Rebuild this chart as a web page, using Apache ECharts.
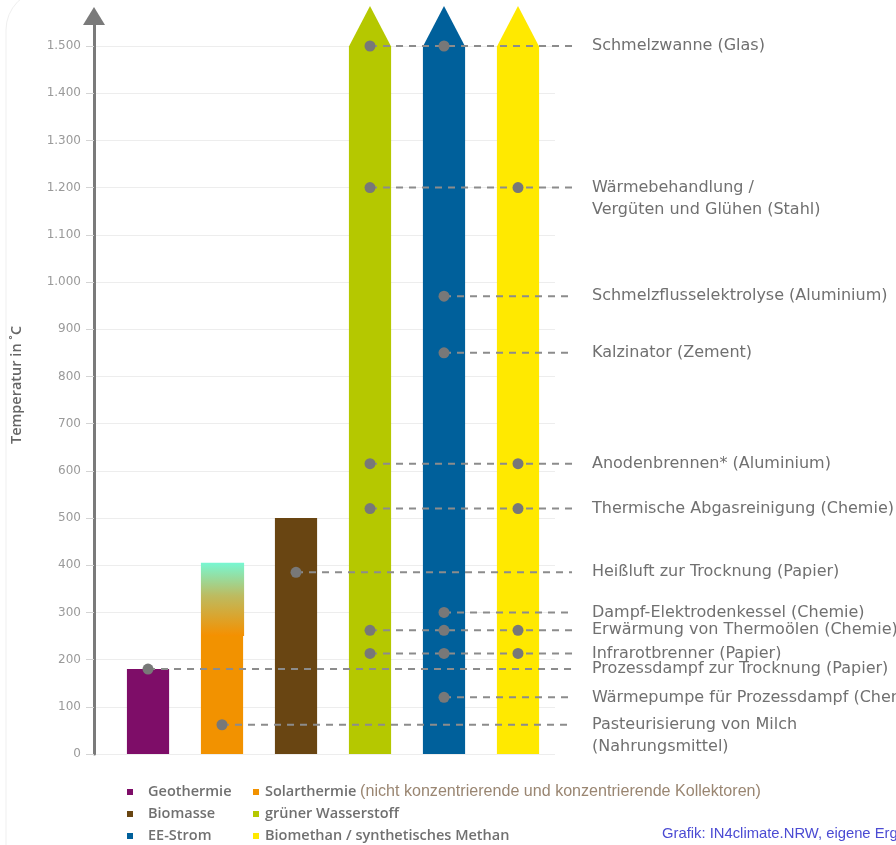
<!DOCTYPE html>
<html>
<head>
<meta charset="utf-8">
<script src="https://cdn.jsdelivr.net/npm/echarts@6/dist/echarts.min.js"></script>
<style>
  html, body { margin: 0; background: #fff; }
  #chart { width: 896px; height: 845px; }
</style>
</head>
<body>
<div id="chart"></div>
<script>
// energy sources (one column each), max temperature in °C
const sources = ['Geothermie', 'Solarthermie', 'Biomasse', 'grüner Wasserstoff', 'EE-Strom', 'Biomethan / synthetisches Methan']
const sourceColors = ['#7e0d68', '#f29200', '#694512', '#b5c800', '#00609b', '#ffe900']
const sourceMax = [180, 405, 500, 1500, 1500, 1500]
const sourceSolidTop = [0, 250, 0, 0, 0, 0] // solar: solid up to 250, gradient above
const openEnded = [false, false, false, true, true, true]
const solarNote = '(nicht konzentrierende und konzentrierende Kollektoren)'

// industrial processes: temperature and which sources (1-based column) can supply them
const processes = [
  'Schmelzwanne (Glas)',
  'Wärmebehandlung /\nVergüten und Glühen (Stahl)',
  'Schmelzflusselektrolyse (Aluminium)',
  'Kalzinator (Zement)',
  'Anodenbrennen* (Aluminium)',
  'Thermische Abgasreinigung (Chemie)',
  'Heißluft zur Trocknung (Papier)',
  'Dampf-Elektrodenkessel (Chemie)',
  'Erwärmung von Thermoölen (Chemie)',
  'Infrarotbrenner (Papier)',
  'Prozessdampf zur Trocknung (Papier)',
  'Wärmepumpe für Prozessdampf (Chemie)',
  'Pasteurisierung von Milch\n(Nahrungsmittel)'
]
const processTemps = [1500, 1200, 970, 850, 615, 520, 385, 300, 262, 213, 180, 120, 62]
const processSources = [[4, 5], [4, 6], [5], [5], [4, 6], [4, 6], [3], [5], [4, 5, 6], [4, 5, 6], [1], [5], [2]]

const yMin = 0
const yMax = 1500
const yInterval = 100

const barWidth = 0.57
const arrowHeight = 40
const lineEndX = 6.73
const labelX = 7

const chart = echarts.init(document.getElementById('chart'))

function fmtDe (v) {
  return String(v).replace(/\B(?=(\d{3})+(?!\d))/g, '.')
}

function renderSource (params, api) {
  const i = api.value(0)
  const v = api.value(1)
  const solid = api.value(2)
  const base = api.coord([i, 0])
  const top = api.coord([i, v])
  const w = api.size([barWidth, 0])[0]
  const x0 = base[0] - w / 2
  const color = api.visual('color')
  const children = []
  if (solid > 0) {
    const mid = api.coord([i, solid])
    children.push({
      type: 'rect',
      shape: { x: x0, y: mid[1], width: w, height: base[1] - mid[1] },
      style: { fill: color }
    })
    children.push({
      type: 'rect',
      shape: { x: x0, y: top[1], width: w + 1, height: mid[1] - top[1] },
      style: {
        fill: new echarts.graphic.LinearGradient(0, 0, 0, 1, [
          { offset: 0, color: '#78f7d2' },
          { offset: 0.45, color: '#bdbb60' },
          { offset: 1, color: '#f59000' }
        ])
      }
    })
  } else {
    children.push({
      type: 'rect',
      shape: { x: x0, y: top[1], width: w, height: base[1] - top[1] },
      style: { fill: color }
    })
  }
  if (openEnded[params.seriesIndex]) {
    children.push({
      type: 'polygon',
      shape: { points: [[x0, top[1] + 0.5], [x0 + w, top[1] + 0.5], [base[0], top[1] - arrowHeight]] },
      style: { fill: color }
    })
  }
  return { type: 'group', children }
}

function renderProcess (params, api) {
  const v = api.value(1)
  const start = api.coord([api.value(0), v])
  const end = api.coord([lineEndX, v])
  const lab = api.coord([labelX, v])
  return {
    type: 'group',
    children: [
      {
        type: 'line',
        shape: { x1: start[0], y1: start[1], x2: end[0], y2: end[1] },
        style: { stroke: '#8c8c8c', lineWidth: 2, lineDash: [7, 6] }
      },
      {
        type: 'text',
        x: lab[0],
        y: lab[1] - 11,
        style: {
          text: processes[api.value(2)],
          fill: '#707070',
          fontSize: 16,
          fontFamily: 'DejaVu Sans',
          lineHeight: 22,
          verticalAlign: 'top',
          align: 'left'
        }
      }
    ]
  }
}

const sourceSeries = sources.map((name, i) => ({
  name: name,
  type: 'custom',
  xAxisIndex: 1,
  yAxisIndex: 1,
  color: sourceColors[i],
  itemStyle: { color: sourceColors[i] },
  renderItem: renderSource,
  encode: { x: 0, y: 1 },
  data: [[i + 1, sourceMax[i], sourceSolidTop[i]]],
  z: 2
}))

const dots = []
processTemps.forEach((t, i) => {
  processSources[i].forEach(c => dots.push([c, t]))
})

const legendText = {
  color: '#707070',
  fontSize: 14.5,
  fontWeight: 600,
  fontFamily: 'Open Sans',
  lineHeight: 16
}

chart.setOption({
  animation: false,
  backgroundColor: '#fff',
  title: {
    text: 'Grafik: IN4climate.NRW, eigene Ergebnisse',
    left: 662,
    top: 826,
    padding: 0,
    textStyle: { color: '#4b4bd3', fontSize: 14.8, fontWeight: 'normal', fontFamily: 'Liberation Sans' }
  },
  graphic: [{
    type: 'rect',
    silent: true,
    z: -10,
    shape: { x: 6, y: -10, width: 1000, height: 900, r: 40 },
    style: { fill: null, stroke: '#efefef', lineWidth: 1 }
  }],
  legend: [
    {
      left: 127,
      top: 784,
      orient: 'vertical',
      data: [sources[0], sources[2], sources[4]],
      icon: 'rect',
      itemWidth: 6,
      itemHeight: 6,
      itemGap: 6,
      selectedMode: false,
      padding: 0,
      textStyle: Object.assign({ padding: [0, 0, 0, 10] }, legendText)
    },
    {
      left: 253,
      top: 784,
      orient: 'vertical',
      data: [sources[1], sources[3], sources[5]],
      icon: 'rect',
      itemWidth: 6,
      itemHeight: 6,
      itemGap: 6,
      selectedMode: false,
      padding: 0,
      formatter: name => name === sources[1] ? name + ' {n|' + solarNote + '}' : name,
      textStyle: Object.assign({
        padding: [0, 0, 0, 1],
        rich: {
          n: { color: '#9a8672', fontSize: 16.1, fontWeight: 'normal', fontFamily: 'Liberation Sans', lineHeight: 16 }
        }
      }, legendText)
    }
  ],
  grid: [
    { left: 94, right: 341, top: 16, bottom: 91, outerBoundsMode: 'none' },
    { left: 94, right: 341, top: 46, bottom: 91, outerBoundsMode: 'none' }
  ],
  xAxis: [
    { gridIndex: 0, type: 'value', min: 0, max: 1, show: false },
    { gridIndex: 1, type: 'value', min: 0.27, max: 6.5, show: false }
  ],
  yAxis: [
    {
      gridIndex: 0,
      type: 'value',
      min: 0,
      max: 1564,
      name: 'Temperatur in ˚C',
      nameLocation: 'middle',
      nameGap: 70,
      nameTextStyle: { color: '#666', fontSize: 14.5, fontWeight: 600, fontFamily: 'Open Sans' },
      axisLine: {
        show: true,
        onZero: false,
        symbol: ['none', 'triangle'],
        symbolSize: [22, 18],
        lineStyle: { color: '#7a7a7a', width: 3 }
      },
      axisTick: { show: false },
      axisLabel: { show: false },
      splitLine: { show: false }
    },
    {
      gridIndex: 1,
      type: 'value',
      min: yMin,
      max: yMax,
      interval: yInterval,
      axisLine: { show: false, onZero: false },
      axisTick: { show: true, length: 8, lineStyle: { color: '#d4d4d4' } },
      axisLabel: {
        margin: 13,
        color: '#9a9a9a',
        fontSize: 12,
        fontFamily: 'DejaVu Sans',
        formatter: fmtDe
      },
      splitLine: { lineStyle: { color: '#ededed' } }
    }
  ],
  series: sourceSeries.concat([
    {
      name: 'Prozesse',
      type: 'custom',
      xAxisIndex: 1,
      yAxisIndex: 1,
      renderItem: renderProcess,
      encode: { x: 0, y: 1 },
      data: processTemps.map((t, i) => [Math.min(...processSources[i]), t, i]),
      z: 4
    },
    {
      name: 'Anwendung',
      type: 'scatter',
      xAxisIndex: 1,
      yAxisIndex: 1,
      symbolSize: 11,
      itemStyle: { color: '#787878', opacity: 1 },
      data: dots,
      z: 5
    }
  ])
})
</script>
</body>
</html>
